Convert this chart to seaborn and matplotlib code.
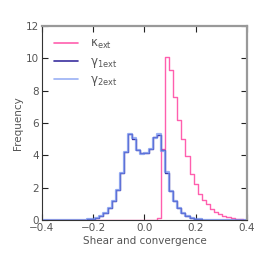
import numpy as np
import pandas as pd
import matplotlib
matplotlib.use("Agg")
import matplotlib.pyplot as plt
import seaborn as sns

# 50 bins of width 0.016 from -0.4 to 0.4
bin_edges = np.linspace(-0.4, 0.4, 51)

kappa_ext = [0.0] * 28 + [0.12, 4.4, 10.1, 9.3, 7.6, 6.2, 5.0, 3.95, 2.85, 2.2,
                          1.62, 1.26, 0.98, 0.7, 0.5, 0.4, 0.27, 0.18, 0.12, 0.08,
                          0.05, 0.02]
gamma1_ext = [0.0, 0.0, 0.0, 0.0, 0.005, 0.005, 0.005, 0.01, 0.01, 0.02,
              0.03, 0.05, 0.08, 0.15, 0.25, 0.45, 0.72, 1.17, 1.85, 2.9,
              4.2, 5.3, 5.0, 4.3, 4.12, 4.12, 4.4, 5.15, 5.25, 4.3,
              2.9, 1.8, 1.2, 0.72, 0.41, 0.25, 0.12, 0.07, 0.04, 0.03,
              0.02, 0.01, 0.01, 0.005, 0.005, 0.0, 0.0, 0.0, 0.0, 0.0]
gamma2_ext = [0.0, 0.0, 0.0, 0.0, 0.005, 0.005, 0.005, 0.01, 0.01, 0.02,
              0.03, 0.05, 0.08, 0.14, 0.25, 0.44, 0.74, 1.15, 1.87, 2.92,
              4.22, 5.35, 5.1, 4.3, 4.1, 4.15, 4.38, 5.1, 5.3, 4.28,
              2.95, 1.82, 1.18, 0.74, 0.42, 0.24, 0.13, 0.07, 0.04, 0.03,
              0.02, 0.01, 0.01, 0.005, 0.005, 0.0, 0.0, 0.0, 0.0, 0.0]

centers = 0.5 * (bin_edges[:-1] + bin_edges[1:])
series = [
    ("κ$_\\mathrm{ext}$", kappa_ext, "#ff5fae", 1.0, 1.0),
    ("γ$_\\mathrm{1ext}$", gamma1_ext, "#3a2f9e", 1.0, 1.0),
    ("γ$_\\mathrm{2ext}$", gamma2_ext, "#6f8ff0", 1.6, 0.7),
]

sns.set_style("ticks")
plt.rcParams["font.family"] = ["DejaVu Sans"]
grey = "#555555"

fig = plt.figure(figsize=(2.6, 2.6), dpi=100)
ax = fig.add_axes([0.1615, 0.1538, 0.7885, 0.7462])

for label, vals, color, lw, alpha in series:
    df = pd.DataFrame({"x": centers, "w": vals})
    sns.histplot(data=df, x="x", weights="w", binwidth=0.016,
                 binrange=(-0.4, 0.4), element="step", fill=False,
                 color=color, linewidth=lw, alpha=alpha, ax=ax, label=label)

ax.set_xlim(-0.4, 0.4)
ax.set_ylim(0, 12)
ax.set_xticks([-0.4, -0.2, 0.0, 0.2, 0.4])
ax.set_yticks([0, 2, 4, 6, 8, 10, 12])
ax.set_xlabel("Shear and convergence", fontsize=7.5, color=grey, labelpad=2)
ax.set_ylabel("Frequency", fontsize=7.5, color=grey, labelpad=2)
ax.tick_params(direction="in", top=True, right=True, length=4, width=0.8,
               labelsize=7.5, labelcolor=grey, color="#222222", pad=2)

for side in ["left", "bottom"]:
    ax.spines[side].set_color("#333333")
    ax.spines[side].set_linewidth(0.8)
for side in ["top", "right"]:
    ax.spines[side].set_visible(True)
    ax.spines[side].set_color("#999999")
    ax.spines[side].set_linewidth(1.6)

leg = ax.legend(loc="upper left", bbox_to_anchor=(0.02, 0.985), frameon=False,
                fontsize=8.5, handlelength=2.0, labelspacing=0.3,
                borderaxespad=0.3, handletextpad=1.0)
for t in leg.get_texts():
    t.set_color(grey)
for h in leg.get_lines():
    h.set_linewidth(1.2)

fig.savefig("out.png", dpi=100)
